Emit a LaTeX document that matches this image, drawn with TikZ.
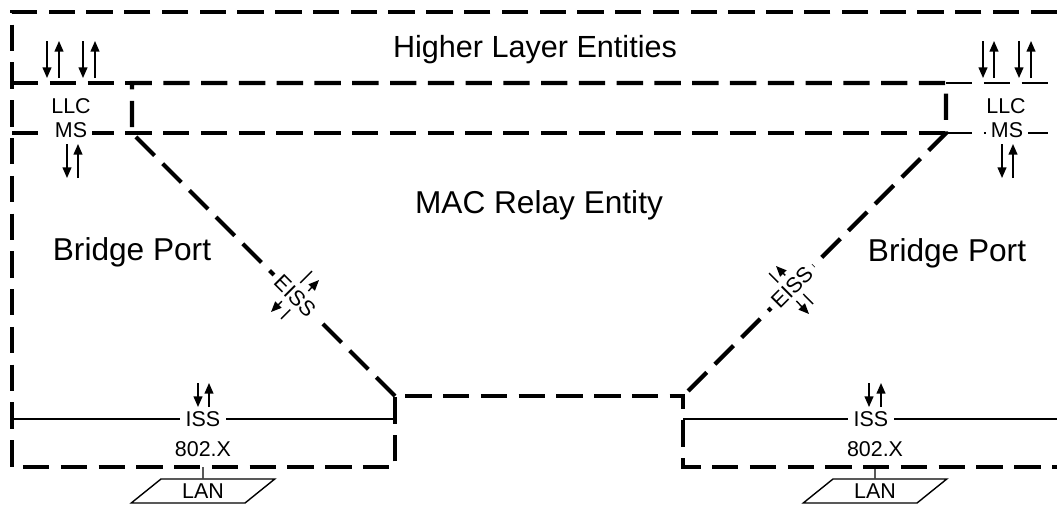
\documentclass[tikz,border=0pt]{standalone}
\usepackage{fontspec}
\setmainfont{Liberation Sans}
\usetikzlibrary{arrows.meta,shapes.geometric}

\begin{document}
\begin{tikzpicture}[x=0.02cm,y=-0.02cm,frame/.style={line width=2.4pt,dash pattern=on 15pt off 6.5pt},thinframe/.style={line width=0.8pt,dash pattern=on 15pt off 6.5pt},wire/.style={line width=0.8pt},arr/.style={-{Triangle[length=6pt,width=5pt]},line width=0.8pt},big/.style={font=\fontsize{17.4}{20}\selectfont,anchor=base},port/.style={font=\fontsize{18}{21}\selectfont,anchor=base},lbl/.style={font=\fontsize{12.2}{14}\selectfont,fill=white,inner xsep=3pt,inner ysep=1pt,anchor=base},eiss/.style={font=\fontsize{12.2}{14}\selectfont,fill=white,inner sep=3pt},lan/.style={draw,line width=0.8pt,trapezium,trapezium left angle=45,trapezium right angle=135,trapezium stretches=true,minimum width=2.88cm,minimum height=0.48cm,inner sep=0pt,font=\fontsize{12.2}{14}\selectfont}]
\useasboundingbox (0,0) rectangle (1057,504);
% boxes
\draw[frame] (1057,12)--(12,12)--(12,467)--(395,467)--(395,396)--(683,396)--(683,467)--(1057,467);
\draw[frame] (395,396)--(132,133)--(132,83)--(946,83)--(946,133)--(683,396);
\draw[frame] (12,83)--(132,83);
\draw[frame] (12,133)--(946,133);
\draw[thinframe] (946,83)--(1057,83);
\draw[thinframe] (946,133)--(1057,133);
\draw[wire] (12,419)--(395,419);
\draw[wire] (683,419)--(1057,419);
% service arrows
\draw[arr] (47,41)--(47,78); \draw[arr] (59,78)--(59,41);
\draw[arr] (83,41)--(83,78); \draw[arr] (95,78)--(95,41);
\draw[arr] (983,41)--(983,78); \draw[arr] (994,78)--(994,41);
\draw[arr] (1019,41)--(1019,78); \draw[arr] (1031,78)--(1031,41);
\draw[arr] (67,144)--(67,178); \draw[arr] (78,178)--(78,144);
\draw[arr] (1002,144)--(1002,178); \draw[arr] (1013,178)--(1013,144);
\draw[arr] (198,383)--(198,407); \draw[arr] (209,407)--(209,383);
\draw[arr] (869,383)--(869,407); \draw[arr] (881,407)--(881,383);
\draw[arr] (281,319)--(319,280); \draw[arr] (312,271)--(271,312);
\draw[arr] (813,304)--(776,266); \draw[arr] (769,273)--(809,314);
% labels
\node[big] (hle) at (535,57) {Higher Layer Entities};
\node[big,font=\fontsize{18}{21}\selectfont] (mre) at (539,213) {MAC Relay Entity};
\node[port] (bpL) at (132,260) {Bridge Port};
\node[port] (bpR) at (947,261) {Bridge Port};
\node[lbl] (llcL) at (71,113) {LLC};
\node[lbl] (msL) at (71,137) {MS};
\node[lbl] (llcR) at (1006,113) {LLC};
\node[lbl] (msR) at (1007,137) {MS};
\node[eiss,rotate=-45] (eissL) at (295,296) {EISS};
\node[eiss,rotate=45] (eissR) at (792,287) {EISS};
\node[lbl] (issL) at (203,426) {ISS};
\node[lbl] (issR) at (871,426) {ISS};
\node[lbl] (macL) at (203,456) {802.X};
\node[lbl] (macR) at (875,456) {802.X};
\node[lan] (lanL) at (203,491) {LAN};
\node[lan] (lanR) at (875,491) {LAN};
\draw[wire] (203,467)--(lanL.north);
\draw[wire] (875,467)--(lanR.north);
\end{tikzpicture}
\end{document}
